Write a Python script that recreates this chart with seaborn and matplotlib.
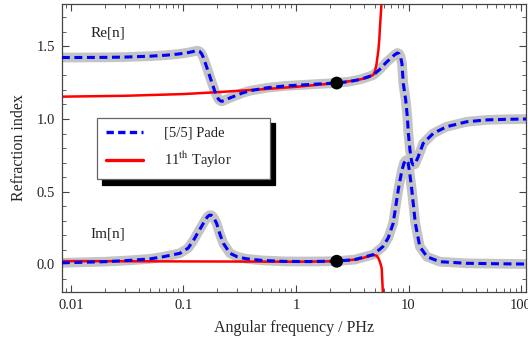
import numpy as np
import pandas as pd
import matplotlib
matplotlib.use("Agg")
import matplotlib.pyplot as plt
import seaborn as sns
from matplotlib.lines import Line2D
from matplotlib.ticker import LogLocator, MultipleLocator, FixedFormatter, FixedLocator

# Re[n], [5/5] Pade (also the thick grey reference band)
re_pade_f = [0.0083, 0.01, 0.02, 0.03, 0.05, 0.07, 0.09, 0.11, 0.12, 0.127, 0.133, 0.139,
             0.145, 0.15, 0.158, 0.172, 0.19, 0.204, 0.212, 0.219, 0.228, 0.24, 0.276, 0.33,
             0.39, 0.55, 0.8, 1.2, 1.7, 2.3, 3.0, 3.8, 4.86, 5.6, 6.37, 7.0, 7.5, 7.94, 8.25,
             8.5, 8.75, 8.98, 9.44, 9.76, 9.97, 10.3, 10.7, 11.0, 11.4, 12.2, 13.5, 16.6,
             21.8, 32.9, 50, 75, 111]
re_pade_n = [1.424, 1.424, 1.425, 1.427, 1.433, 1.44, 1.448, 1.458, 1.464, 1.469, 1.471, 1.466,
             1.45, 1.425, 1.375, 1.29, 1.19, 1.138, 1.126, 1.122, 1.126, 1.135, 1.154, 1.178,
             1.195, 1.215, 1.228, 1.236, 1.243, 1.248, 1.258, 1.275, 1.303, 1.345, 1.392, 1.42,
             1.442, 1.455, 1.45, 1.43, 1.38, 1.246, 1.131, 1.016, 0.901, 0.786, 0.7, 0.684,
             0.688, 0.74, 0.832, 0.901, 0.947, 0.981, 0.994, 0.998, 1.0]

# Im[n], [5/5] Pade
im_pade_f = [0.0083, 0.01, 0.02, 0.033, 0.05, 0.066, 0.093, 0.11, 0.122, 0.135, 0.145, 0.155,
             0.163, 0.17, 0.177, 0.185, 0.197, 0.212, 0.226, 0.259, 0.3, 0.363, 0.5, 0.8, 1.3,
             2.3, 3.3, 4.86, 5.92, 6.6, 7.3, 8.1, 8.7, 9.1, 9.4, 9.64, 9.9, 10.2, 10.7, 11.5,
             12.6, 14.6, 19.0, 32.9, 60, 111]
im_pade_n = [0.008, 0.01, 0.016, 0.025, 0.035, 0.05, 0.074, 0.11, 0.16, 0.22, 0.26, 0.3,
             0.325, 0.337, 0.336, 0.322, 0.28, 0.2, 0.143, 0.074, 0.05, 0.036, 0.025, 0.018,
             0.017, 0.02, 0.03, 0.065, 0.12, 0.18, 0.28, 0.51, 0.64, 0.695, 0.712, 0.717, 0.7,
             0.64, 0.51, 0.28, 0.12, 0.05, 0.016, 0.005, 0.002, 0.0]

# 11th order Taylor expansion
re_tay_f = [0.0083, 0.01, 0.03, 0.1, 0.2, 0.5, 1.0, 2.3, 3.5, 4.3, 4.86, 5.04, 5.2, 5.4,
            5.5, 5.58, 5.68, 5.78, 5.85]
re_tay_n = [1.154, 1.155, 1.16, 1.172, 1.185, 1.205, 1.222, 1.248, 1.268, 1.285, 1.305, 1.33,
            1.38, 1.476, 1.55, 1.637, 1.73, 1.82, 1.95]
im_tay_f = [0.0083, 0.01, 0.1, 1.0, 2.3, 3.5, 4.3, 4.86, 5.2, 5.4, 5.6, 5.78, 5.92, 6.0]
im_tay_n = [0.02, 0.02, 0.018, 0.016, 0.019, 0.032, 0.05, 0.062, 0.058, 0.04, 0.01, -0.03,
            -0.2, -0.3]

# matching points
dot_f = [2.3, 2.3]
dot_n = [1.248, 0.019]

sns.set_style("ticks")
plt.rcParams["font.family"] = ["Liberation Serif", "DejaVu Serif"]
plt.rcParams["mathtext.fontset"] = "stix"
plt.rcParams["axes.edgecolor"] = "#444444"
plt.rcParams["text.color"] = "#222222"

fig = plt.figure(figsize=(5.28, 3.45), dpi=100)
ax = fig.add_axes([0.1174, 0.1536, 0.8788, 0.8348])

grey = "#c4c4c4"
for f, n in [(re_pade_f, re_pade_n), (im_pade_f, im_pade_n)]:
    sns.lineplot(x=f, y=n, ax=ax, color=grey, lw=7, sort=False,
                 solid_capstyle="butt", solid_joinstyle="round", zorder=1)
for f, n in [(re_tay_f, re_tay_n), (im_tay_f, im_tay_n)]:
    sns.lineplot(x=f, y=n, ax=ax, color="#ff0000", lw=1.8, sort=False, zorder=2)
for f, n in [(re_pade_f, re_pade_n), (im_pade_f, im_pade_n)]:
    sns.lineplot(x=f, y=n, ax=ax, color="#0000ff", lw=2.2, sort=False,
                 linestyle=(0, (2.6, 1.5)), zorder=3)
sns.scatterplot(x=dot_f, y=dot_n, ax=ax, color="black", s=85, edgecolor="none", zorder=5)

ax.set_xscale("log")
ax.set_xlim(0.00832, 110.7)
ax.set_ylim(-0.193, 1.793)

ax.xaxis.set_major_locator(FixedLocator([0.01, 0.1, 1, 10, 100]))
ax.xaxis.set_major_formatter(FixedFormatter(["0.01", "0.1", "1", "10", "100"]))
ax.xaxis.set_minor_locator(LogLocator(base=10, subs=np.arange(2, 10), numticks=20))
ax.yaxis.set_major_locator(MultipleLocator(0.5))
ax.yaxis.set_minor_locator(MultipleLocator(0.1))
ax.yaxis.set_major_formatter(matplotlib.ticker.FormatStrFormatter("%.1f"))
ax.tick_params(which="both", direction="in", top=True, right=True, color="#444444",
               labelsize=10.5, labelcolor="#222222")
ax.tick_params(which="major", length=5, width=0.8, pad=5)
ax.tick_params(which="minor", length=3, width=0.6)
for s in ax.spines.values():
    s.set_linewidth(0.9)

ax.set_xlabel("Angular frequency / PHz", fontsize=11.5, labelpad=6)
ax.set_ylabel("Refraction index", fontsize=11.5, labelpad=7)

ax.text(0.015, 1.59, "Re[n]", fontsize=11, va="center")
ax.text(0.015, 0.207, "Im[n]", fontsize=11, va="center")

handles = [Line2D([], [], color="#0000ff", lw=2.4, linestyle=(0, (2.2, 1.3))),
           Line2D([], [], color="#ff0000", lw=2.4)]
leg = ax.legend(handles, ["[5/5] Pade", "11$^{\\rm th}$ Taylor"],
                loc="lower left", bbox_to_anchor=(0.075, 0.392, 0.373, 0.198),
                mode="expand", borderaxespad=0, fontsize=10.5, handlelength=2.6,
                handletextpad=1.4, borderpad=0.6, labelspacing=0.7, fancybox=False,
                framealpha=1, edgecolor="#666666",
                shadow={"ox": 4, "oy": -4, "color": "black", "alpha": 1})
leg.get_frame().set_linewidth(0.9)

fig.savefig("out.png", dpi=100)
